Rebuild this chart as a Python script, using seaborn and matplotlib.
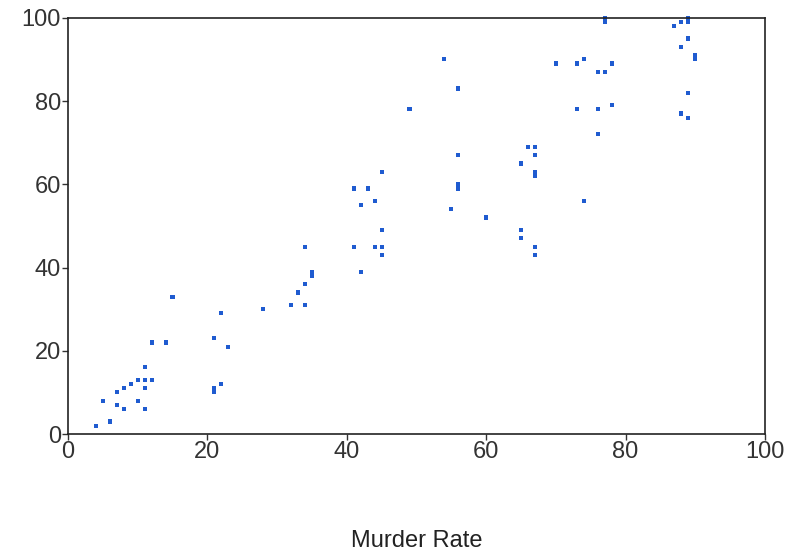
import matplotlib
matplotlib.use('Agg')
import matplotlib.pyplot as plt
import seaborn as sns
import pandas as pd

murder_rate = [4, 5, 6, 7, 7, 8, 8, 9, 10, 10, 11, 11, 11, 11, 12, 12, 14, 15,
               21, 21, 21, 22, 22, 23, 28, 32, 33, 34, 34, 34, 35, 35,
               41, 43, 42, 44, 45, 45, 41, 44, 45, 45, 42, 49, 54, 56, 56, 56, 56, 55, 60,
               65, 66, 67, 67, 67, 67, 65, 65, 67, 67, 74, 70, 73, 74, 76, 77, 78,
               73, 76, 78, 76, 77, 77, 87, 88, 89, 89, 89, 88, 90, 90, 89, 88, 89]
other_rate = [2, 8, 3, 10, 7, 11, 6, 12, 13, 8, 16, 13, 11, 6, 22, 13, 22, 33,
              23, 11, 10, 29, 12, 21, 30, 31, 34, 36, 45, 31, 39, 38,
              59, 59, 55, 56, 63, 49, 45, 45, 45, 43, 39, 78, 90, 83, 67, 60, 59, 54, 52,
              65, 69, 69, 67, 63, 62, 49, 47, 45, 43, 56, 89, 89, 90, 87, 87, 89,
              78, 78, 79, 72, 99, 100, 98, 99, 99, 100, 95, 93, 91, 90, 82, 77, 76]

df = pd.DataFrame({'murder': murder_rate, 'other': other_rate})

sns.set_style('ticks')
plt.rcParams['font.family'] = ['Liberation Sans', 'DejaVu Sans']

fig = plt.figure(figsize=(7.91, 5.55), dpi=100)
ax = fig.add_axes([0.086, 0.218, 0.881, 0.75])
sns.scatterplot(data=df, x='murder', y='other', marker='s', s=9,
                color='#1f5bd0', edgecolor='none', ax=ax, clip_on=False)

ax.set_xlim(0, 100)
ax.set_ylim(0, 100)
ax.set_xticks(range(0, 101, 20))
ax.set_yticks(range(0, 101, 20))
ax.tick_params(labelsize=17, length=4, width=1, pad=1, colors='#333333')
for s in ax.spines.values():
    s.set_visible(True)
    s.set_color('#222222')
    s.set_linewidth(1.2)
ax.set_xlabel('Murder Rate', fontsize=17, labelpad=48, color='#222222')
ax.set_ylabel('')

fig.savefig('out.png', dpi=100)
